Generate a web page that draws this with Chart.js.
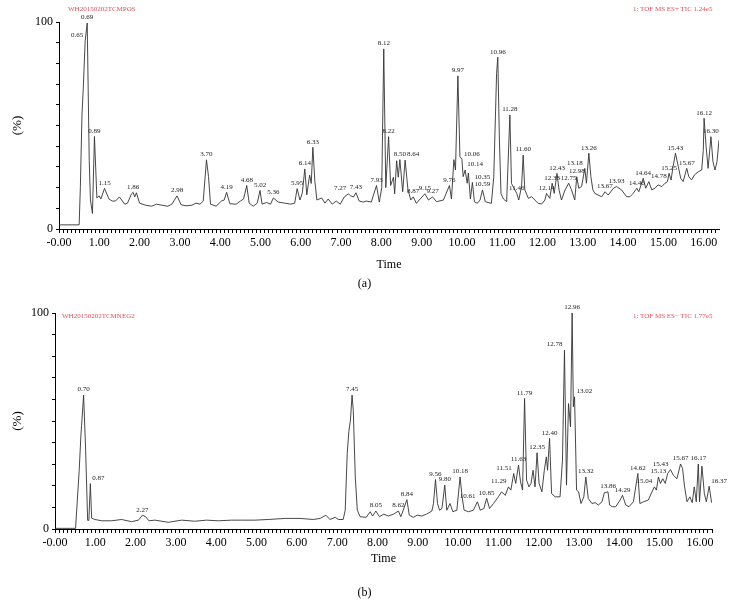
<!DOCTYPE html>
<html>
<head>
<meta charset="utf-8">
<script src="https://cdn.jsdelivr.net/npm/chart.js@4.4.1/dist/chart.umd.min.js"></script>
<style>
  body { margin: 0; background: #fff; }
  #wrap { position: relative; width: 729px; height: 615px; font-family: "Liberation Serif", serif; }
  canvas { position: absolute; left: 0; }
  .red { position: absolute; color: #e0505a; font-size: 7px; line-height: 7px; white-space: nowrap; }
  .cap { position: absolute; left: 0; width: 729px; text-align: center; font-size: 12px; line-height: 14px; }
</style>
</head>
<body>
<div id="wrap">
  <canvas id="posChart" width="729" height="300" style="top:0"></canvas>
  <canvas id="negChart" width="729" height="315" style="top:300px"></canvas>
  <div class="red" style="left:68px;top:6px">WH20150202TCMPOS</div>
  <div class="red" style="left:633px;top:6px">1: TOF MS ES+ TIC 1.24e5</div>
  <div class="red" style="left:62px;top:313px">WH20150202TCMNEG2</div>
  <div class="red" style="left:633px;top:313px">1: TOF MS ES&minus; TIC 1.77e5</div>
  <div class="cap" style="top:276px">(a)</div>
  <div class="cap" style="top:585px">(b)</div>
</div>
<script>
// (a) positive mode TIC: [time, intensity %]
const posTrace = [
  [0, 2], [0.50, 2], [0.53, 20], [0.57, 55], [0.60, 67], [0.65, 91], [0.70, 99.5], [0.75, 33],
  [0.78, 14], [0.83, 7.5], [0.88, 44.7], [0.94, 15], [1.00, 16], [1.04, 14.5], [1.13, 19.6],
  [1.24, 14.5], [1.32, 13.5], [1.40, 13.5], [1.50, 15.5], [1.63, 12], [1.70, 12.5], [1.80, 17],
  [1.84, 17.7], [1.88, 15.5], [1.92, 17.5], [2.00, 12.5], [2.15, 11.5], [2.30, 11], [2.42, 12],
  [2.55, 11.5], [2.70, 11], [2.80, 12], [2.93, 16], [3.03, 11.7], [3.15, 11.2], [3.30, 11.5],
  [3.40, 12.5], [3.50, 12], [3.58, 13.5], [3.66, 33.4], [3.71, 25.4], [3.76, 12], [3.90, 11],
  [4.03, 13.5], [4.10, 14], [4.16, 17.7], [4.24, 12.2], [4.40, 12], [4.50, 13.5], [4.58, 14.5],
  [4.66, 21], [4.72, 12.5], [4.82, 11], [4.92, 12.5], [4.99, 18.6], [5.04, 12], [5.15, 12.8],
  [5.25, 12], [5.32, 15], [5.44, 13], [5.60, 12.5], [5.75, 12], [5.85, 12.5], [5.91, 19.5],
  [5.98, 14], [6.04, 17.5], [6.10, 29], [6.15, 16.5], [6.22, 26], [6.26, 22], [6.30, 39.5],
  [6.35, 23], [6.40, 14], [6.52, 15], [6.60, 12.5], [6.68, 14.5], [6.78, 12], [6.88, 13.5],
  [6.98, 12], [7.08, 15.5], [7.18, 17], [7.24, 16], [7.31, 15.5], [7.37, 17.5], [7.45, 13.5],
  [7.55, 13], [7.63, 13.5], [7.75, 13], [7.88, 21], [7.95, 13], [8.01, 20], [8.06, 87],
  [8.11, 20], [8.18, 44.6], [8.23, 21], [8.30, 25], [8.33, 17], [8.38, 33], [8.42, 25],
  [8.46, 33.5], [8.53, 18], [8.59, 33.3], [8.66, 19], [8.73, 14], [8.79, 15.5], [8.87, 12.4],
  [8.94, 14], [9.08, 17], [9.17, 14], [9.27, 15.5], [9.37, 13.2], [9.54, 14], [9.69, 21],
  [9.74, 14.5], [9.80, 33.5], [9.84, 28.5], [9.90, 74], [9.95, 35], [10.00, 33.7], [10.03, 25.3],
  [10.08, 28.5], [10.13, 22.1], [10.16, 27], [10.21, 14.5], [10.26, 22.5], [10.31, 13.2],
  [10.38, 12.4], [10.45, 14], [10.51, 18.9], [10.58, 13.2], [10.65, 12.8], [10.73, 12.4],
  [10.79, 25], [10.86, 75], [10.89, 83], [10.93, 43], [10.97, 17], [11.03, 14.5], [11.11, 13.2],
  [11.19, 55.1], [11.23, 22], [11.27, 20.5], [11.36, 17.2], [11.41, 14], [11.48, 20.5],
  [11.52, 35.7], [11.56, 18.9], [11.65, 14.8], [11.73, 15.6], [11.81, 14], [11.89, 12.4],
  [11.98, 12.1], [12.06, 14], [12.10, 17.2], [12.18, 14.8], [12.24, 22.1], [12.29, 17.2],
  [12.36, 26.9], [12.41, 18.9], [12.47, 14], [12.56, 18.9], [12.65, 22.1], [12.72, 18.9],
  [12.80, 14], [12.85, 25.3], [12.90, 19.7], [12.97, 20.5], [13.05, 29.3], [13.09, 22.1],
  [13.15, 36.6], [13.20, 25.3], [13.25, 18.9], [13.30, 17.2], [13.38, 16.4], [13.47, 15.6],
  [13.55, 18], [13.63, 16.4], [13.76, 19.7], [13.84, 20.5], [13.96, 18.9], [14.09, 15.6],
  [14.17, 15.6], [14.25, 17.2], [14.34, 19.7], [14.39, 18], [14.50, 24.5], [14.56, 19.7],
  [14.64, 22.9], [14.71, 18.9], [14.79, 19.7], [14.87, 21.3], [14.96, 20.5], [15.04, 22.1],
  [15.10, 22.9], [15.14, 26.9], [15.19, 23.7], [15.24, 30.1], [15.30, 36.6], [15.37, 30.1],
  [15.43, 24.5], [15.49, 22.9], [15.58, 29.3], [15.63, 25.3], [15.70, 23.7], [15.77, 26.1],
  [15.87, 27.7], [15.95, 28.5], [15.99, 38], [16.01, 53.5], [16.06, 39.8], [16.11, 29.3],
  [16.18, 44.6], [16.23, 32.5], [16.28, 28.5], [16.33, 32.5], [16.38, 43]
];

// [label, apex time, apex intensity]
const posPeaks = [
  ['0.65', 0.65, 91], ['0.69', 0.70, 99.5], ['0.89', 0.88, 44.7], ['1.15', 1.13, 19.6],
  ['1.86', 1.84, 17.7], ['2.98', 2.93, 16], ['3.70', 3.66, 33.4], ['4.19', 4.16, 17.7],
  ['4.68', 4.66, 21], ['5.02', 4.99, 18.6], ['5.36', 5.32, 15], ['5.95', 5.91, 19.5],
  ['6.14', 6.10, 29], ['6.33', 6.30, 39.5], ['7.27', 7.18, 17], ['7.43', 7.37, 17.5],
  ['7.93', 7.88, 21], ['8.12', 8.06, 87], ['8.22', 8.18, 44.6], ['8.50', 8.46, 33.5],
  ['8.64', 8.59, 33.3], ['8.87', 8.79, 15.5], ['9.15', 9.08, 17], ['9.27', 9.27, 15.5],
  ['9.76', 9.69, 21], ['9.97', 9.90, 74], ['10.06', 10.00, 33.7], ['10.14', 10.08, 28.5],
  ['10.35', 10.26, 22.5], ['10.59', 10.51, 18.9], ['10.96', 10.89, 83], ['11.28', 11.19, 55.1],
  ['11.46', 11.36, 17.2], ['11.60', 11.52, 35.7], ['12.14', 12.10, 17.2], ['12.33', 12.24, 22.1],
  ['12.43', 12.36, 26.9], ['12.75', 12.65, 22.1], ['12.98', 12.85, 25.3], ['13.18', 13.05, 29.3],
  ['13.26', 13.15, 36.6], ['13.67', 13.55, 18], ['13.93', 13.84, 20.5], ['14.46', 14.34, 19.7],
  ['14.64', 14.50, 24.5], ['14.78', 14.64, 22.9], ['15.25', 15.14, 26.9], ['15.43', 15.30, 36.6],
  ['15.67', 15.58, 29.3], ['16.12', 16.01, 53.5], ['16.30', 16.18, 44.6]
];

// (b) negative mode TIC
const negTrace = [
  [0, 0.3], [0.51, 0.3], [0.60, 27], [0.645, 44], [0.66, 48], [0.71, 62], [0.76, 36.5],
  [0.81, 4], [0.84, 4], [0.877, 21], [0.91, 5], [0.99, 4.4], [1.16, 3.8], [1.41, 3.8],
  [1.65, 4.4], [1.90, 3.4], [2.07, 4.1], [2.17, 6.4], [2.25, 5.7], [2.33, 3.8], [2.48, 4.1],
  [2.81, 3.1], [3.14, 4.1], [3.47, 3.6], [3.76, 4.1], [4.05, 3.8], [4.38, 4.1], [4.63, 4.1],
  [4.96, 4.1], [5.29, 4.4], [5.71, 4.9], [6.08, 4.9], [6.41, 4.4], [6.58, 4.9], [6.72, 6.4],
  [6.82, 4.4], [6.95, 5.4], [7.03, 4.4], [7.15, 4.4], [7.20, 8.7], [7.25, 35], [7.29, 45],
  [7.33, 50.4], [7.37, 62], [7.40, 55], [7.45, 24.1], [7.50, 8.7], [7.57, 5.7], [7.72, 5.4],
  [7.82, 8.0], [7.88, 6.0], [7.96, 8.3], [8.05, 5.7], [8.16, 6.9], [8.27, 6.0], [8.40, 6.9],
  [8.52, 8.3], [8.58, 5.7], [8.64, 8.7], [8.73, 13.6], [8.79, 6.4], [8.89, 5.4], [8.99, 6.4],
  [9.10, 6.0], [9.22, 6.9], [9.35, 8.3], [9.39, 11.8], [9.44, 22.9], [9.49, 11.8], [9.54, 8.7],
  [9.60, 9.5], [9.67, 20.3], [9.72, 8.7], [9.80, 11.8], [9.87, 8.0], [9.97, 8.7], [10.05, 24.1],
  [10.10, 14.9], [10.15, 8.7], [10.26, 8.0], [10.38, 8.7], [10.48, 12.6], [10.55, 8.7],
  [10.64, 9.5], [10.71, 14.2], [10.78, 9.5], [10.88, 11.8], [11.00, 14.9], [11.08, 17.2],
  [11.17, 15.6], [11.25, 19.5], [11.31, 18.0], [11.38, 25.7], [11.43, 21.1], [11.50, 29.6],
  [11.55, 21.8], [11.60, 18.0], [11.65, 60.4], [11.70, 22.6], [11.76, 19.5], [11.81, 21.1],
  [11.86, 27.2], [11.91, 19.5], [11.96, 35.3], [12.01, 21.1], [12.08, 17.2], [12.14, 27.2],
  [12.19, 33.4], [12.22, 27.2], [12.27, 41.9], [12.32, 16.4], [12.41, 14.9], [12.53, 14.9],
  [12.59, 31.9], [12.64, 82.8], [12.69, 20.3], [12.74, 58.1], [12.79, 47.3], [12.83, 100],
  [12.86, 56.6], [12.89, 61.2], [12.94, 18.0], [12.99, 17.2], [13.05, 11.8], [13.12, 14.9],
  [13.17, 24.1], [13.23, 14.2], [13.32, 11.8], [13.40, 12.2], [13.48, 11.1], [13.57, 12.6],
  [13.63, 16.8], [13.72, 17.2], [13.76, 11.1], [13.83, 10.3], [13.91, 10.3], [14.02, 13.4],
  [14.08, 15.6], [14.16, 11.1], [14.24, 10.3], [14.35, 12.6], [14.46, 25.7], [14.51, 11.8],
  [14.60, 12.6], [14.72, 13.4], [14.81, 17.2], [14.87, 19.5], [14.92, 18.0], [14.97, 24.1],
  [15.02, 21.1], [15.08, 23.3], [15.14, 21.1], [15.20, 25.7], [15.27, 27.5], [15.34, 24.9],
  [15.43, 23.3], [15.52, 30.1], [15.57, 28.0], [15.62, 19.5], [15.68, 12.6], [15.75, 14.9],
  [15.81, 12.2], [15.86, 19.5], [15.91, 12.6], [15.96, 30.1], [15.99, 12.6], [16.05, 29.1],
  [16.11, 16.4], [16.16, 12.6], [16.23, 19.8], [16.29, 12.2]
];

const negPeaks = [
  ['0.70', 0.71, 62], ['0.87', 0.877, 21], ['2.27', 2.17, 6.4], ['7.45', 7.37, 62],
  ['8.05', 7.96, 8.3], ['8.62', 8.52, 8.3], ['8.84', 8.73, 13.6], ['9.56', 9.44, 22.9],
  ['9.80', 9.67, 20.3], ['10.18', 10.05, 24.1], ['10.61', 10.48, 12.6], ['10.85', 10.71, 14.2],
  ['11.29', 11.25, 19.5], ['11.51', 11.38, 25.7], ['11.63', 11.50, 29.6], ['11.79', 11.65, 60.4],
  ['12.35', 11.96, 35.3], ['12.40', 12.27, 41.9], ['12.78', 12.64, 82.8], ['12.96', 12.83, 100],
  ['13.02', 12.89, 61.2], ['13.32', 13.17, 24.1], ['13.86', 13.72, 17.2], ['14.29', 14.08, 15.6],
  ['14.62', 14.46, 25.7], ['15.04', 14.87, 19.5], ['15.13', 14.97, 24.1], ['15.43', 15.27, 27.5],
  ['15.67', 15.52, 30.1], ['16.17', 15.96, 30.1], ['16.37', 16.23, 19.8]
];

// labels that sit beside the apex instead of centred over it
const posAlign = { '0.65': 'right', '7.27': 'right', '8.64': 'left', '10.06': 'left', '10.14': 'left',
  '10.35': 'left', '13.18': 'right', '14.78': 'left' };
const negAlign = { '0.87': 'left', '10.61': 'right', '11.29': 'right', '11.51': 'right',
  '12.78': 'right', '13.02': 'left', '15.04': 'right', '15.43': 'right', '16.37': 'left' };

const serif = 'Liberation Serif';

const peakLabels = {
  id: 'peakLabels',
  afterDatasetsDraw(chart, args, opts) {
    const { ctx, scales: { x, y } } = chart;
    ctx.save();
    ctx.font = '7px "' + serif + '"';
    ctx.fillStyle = '#222';
    ctx.textBaseline = 'bottom';
    opts.peaks.forEach(p => {
      const a = opts.align[p[0]] || 'center';
      ctx.textAlign = a;
      const dx = a === 'left' ? 2 : a === 'right' ? -2 : 0;
      ctx.fillText(p[0], x.getPixelForValue(p[1]) + dx, y.getPixelForValue(p[2]) - 2);
    });
    ctx.restore();
  }
};

function makeChart(id, trace, peaks, align, xMax, g) {
  return new Chart(document.getElementById(id), {
    type: 'line',
    data: {
      datasets: [{
        data: trace.map(p => ({ x: p[0], y: p[1] })),
        borderColor: '#333',
        borderWidth: 0.9,
        pointRadius: 0,
        tension: 0,
        fill: false
      }]
    },
    options: {
      responsive: false,
      animation: false,
      layout: { padding: { top: g.top, right: g.right, left: 0, bottom: 0 } },
      plugins: {
        legend: { display: false },
        tooltip: { enabled: false },
        peakLabels: { peaks: peaks, align: align }
      },
      scales: {
        x: {
          type: 'linear',
          min: 0,
          max: xMax,
          border: { display: true, color: '#000', width: 1 },
          grid: { drawOnChartArea: false, tickLength: 4, tickColor: '#000', tickWidth: 1 },
          // minor tick every 0.1 min; Chart.js would thin these out on its own
          afterBuildTicks: s => {
            const ticks = [];
            for (let i = 0; i * 0.1 <= xMax + 1e-9; i++) ticks.push({ value: i / 10 });
            s.ticks = ticks;
          },
          ticks: {
            autoSkip: false,
            maxRotation: 0,
            minRotation: 0,
            padding: 3,
            color: '#000',
            font: { family: serif, size: 12 },
            callback: v => {
              const r = Math.round(v);
              if (Math.abs(v - r) > 1e-6) return '';
              return r === 0 ? '-0.00' : r.toFixed(2);
            }
          },
          title: {
            display: true, text: 'Time', color: '#000',
            font: { family: serif, size: 12 },
            padding: { top: 0, bottom: g.titlePad }
          },
          afterFit: s => { s.height = g.xh; }
        },
        y: {
          min: 0,
          max: 100,
          border: { display: true, color: '#000', width: 1 },
          grid: { drawOnChartArea: false, tickLength: 3, tickColor: '#000' },
          ticks: {
            stepSize: 10,
            padding: 3,
            color: '#000',
            font: { family: serif, size: 12 },
            callback: v => (v === 0 || v === 100) ? String(v) : ''
          },
          title: {
            display: true, text: '(%)', color: '#000',
            font: { family: serif, size: 13 },
            padding: { top: 10, bottom: 0 }
          },
          afterFit: s => { s.width = g.yw; }
        }
      }
    },
    plugins: [peakLabels]
  });
}

makeChart('posChart', posTrace, posPeaks, posAlign, 16.38,
  { top: 22, right: 10, yw: 59, xh: 71, titlePad: 28 });
makeChart('negChart', negTrace, negPeaks, negAlign, 16.3,
  { top: 13, right: 17, yw: 55, xh: 86, titlePad: 49 });
</script>
</body>
</html>
